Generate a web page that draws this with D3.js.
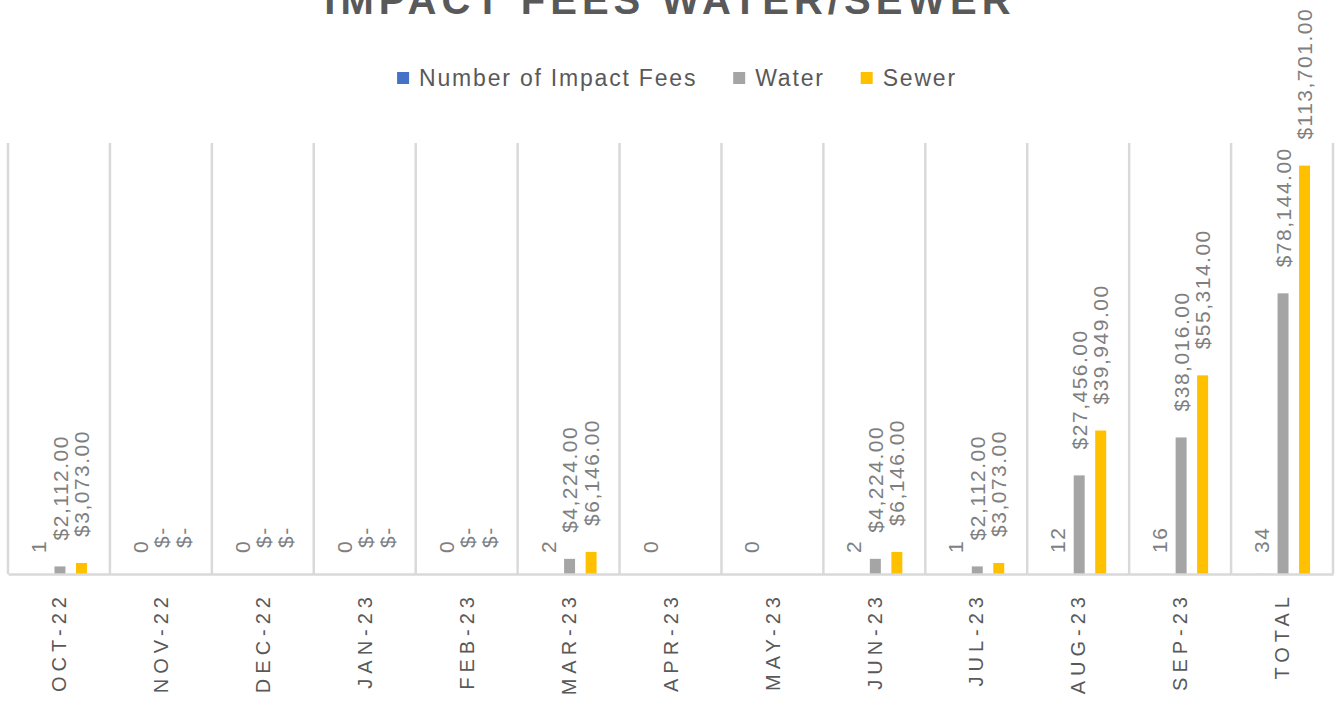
<!DOCTYPE html>
<html>
<head>
<meta charset="utf-8">
<script src="https://cdn.jsdelivr.net/npm/d3@7"></script>
<style>
  body { margin: 0; background: #fff; }
  text { font-family: "Liberation Sans", Arial, sans-serif; }
</style>
</head>
<body>
<div id="chart"></div>
<script>
var svgWidth = 1338;
var svgHeight = 704;

// data
var categories = ["OCT-22", "NOV-22", "DEC-22", "JAN-23", "FEB-23", "MAR-23", "APR-23",
    "MAY-23", "JUN-23", "JUL-23", "AUG-23", "SEP-23", "TOTAL"];
var numFees = [1, 0, 0, 0, 0, 2, 0, 0, 2, 1, 12, 16, 34];
var water = [2112, 0, 0, 0, 0, 4224, null, null, 4224, 2112, 27456, 38016, 78144];
var sewer = [3073, 0, 0, 0, 0, 6146, null, null, 6146, 3073, 39949, 55314, 113701];
var seriesNames = ["Number of Impact Fees", "Water", "Sewer"];
var seriesColors = ["#4472C4", "#A5A5A5", "#FFC000"];
var yMax = 120000;

var plot = { left: 8, right: 1333, top: 143, bottom: 574 };

var svg = d3.select("#chart")
    .append("svg")
    .attr("width", svgWidth)
    .attr("height", svgHeight);

var seriesData = [numFees, water, sewer];

var x0 = d3.scaleBand()
    .domain(categories)
    .range([plot.left, plot.right])
    .padding(0);

var bw = x0.bandwidth();
var x1 = d3.scaleBand()
    .domain(d3.range(3))
    .range([bw / 2 - 26, bw / 2 + 28])
    .paddingInner(0.49)
    .paddingOuter(0);

var y = d3.scaleLinear()
    .domain([0, yMax])
    .range([plot.bottom, plot.top]);

// vertical gridlines between categories
var gridX = categories.map(c => x0(c)).concat([plot.right]);
svg.append("g")
    .selectAll("line")
    .data(gridX)
    .enter()
    .append("line")
    .attr("x1", d => d)
    .attr("x2", d => d)
    .attr("y1", plot.top)
    .attr("y2", plot.bottom)
    .attr("stroke", "#D9D9D9")
    .attr("stroke-width", 2.5);

// bars
var money = d3.format("$,.2f");
seriesData.forEach(function (vals, s) {
    var rows = categories.map((c, i) => ({ cat: c, v: vals[i] })).filter(d => d.v !== null);

    svg.append("g")
        .selectAll("rect")
        .data(rows)
        .enter()
        .append("rect")
        .attr("x", d => x0(d.cat) + x1(s))
        .attr("y", d => y(d.v))
        .attr("width", x1.bandwidth())
        .attr("height", d => plot.bottom - y(d.v))
        .attr("fill", seriesColors[s]);

    // data labels, rotated
    svg.append("g")
        .selectAll("text")
        .data(rows)
        .enter()
        .append("text")
        .attr("transform", function (d) {
            var cx = x0(d.cat) + x1(s) + x1.bandwidth() / 2;
            var cy = y(d.v) - (s === 0 ? 21 : 26);
            return `translate(${cx}, ${cy}) rotate(-90)`;
        })
        .attr("dy", "0.36em")
        .attr("text-anchor", "start")
        .attr("font-size", "21px")
        .attr("letter-spacing", "1.5px")
        .attr("fill", "#7F7F7F")
        .text(d => s === 0 ? d.v : (d.v === 0 ? "$-" : money(d.v)));
});

// axis line
var xAxis = svg.append("g")
    .attr("transform", `translate(0, ${plot.bottom})`)
    .call(d3.axisBottom(x0).tickSize(0).tickPadding(0));

xAxis.select(".domain")
    .attr("stroke", "#D9D9D9")
    .attr("stroke-width", 2.5);

xAxis.selectAll(".tick text")
    .attr("transform", "translate(0, 18) rotate(-90)")
    .attr("x", 0)
    .attr("y", 0)
    .attr("dy", "0.36em")
    .attr("text-anchor", "end")
    .attr("font-size", "20px")
    .attr("letter-spacing", "5px")
    .attr("font-family", "Liberation Sans, Arial, sans-serif")
    .attr("fill", "#595959");

// title (cut off at top like the original)
svg.append("text")
    .attr("x", 670)
    .attr("y", 14)
    .attr("text-anchor", "middle")
    .attr("font-size", "40px")
    .attr("font-weight", "bold")
    .attr("letter-spacing", "5px")
    .attr("fill", "#595959")
    .text("IMPACT FEES WATER/SEWER");

// legend
var legend = svg.append("g").attr("transform", "translate(0, 78)");
var lx = 0;
seriesNames.forEach(function (name, i) {
    var g = legend.append("g");
    g.append("rect")
        .attr("x", 0)
        .attr("y", -6)
        .attr("width", 12)
        .attr("height", 12)
        .attr("fill", seriesColors[i]);
    var t = g.append("text")
        .attr("x", 22)
        .attr("dy", "0.36em")
        .attr("font-size", "23px")
        .attr("letter-spacing", "1.8px")
        .attr("fill", "#595959")
        .text(name);
    var w = 22 + t.node().getComputedTextLength();
    g.attr("transform", `translate(${lx}, 0)`);
    lx += w + 36;
});
var legendWidth = lx - 36;
legend.attr("transform", `translate(${677 - legendWidth / 2}, 78)`);
</script>
</body>
</html>
